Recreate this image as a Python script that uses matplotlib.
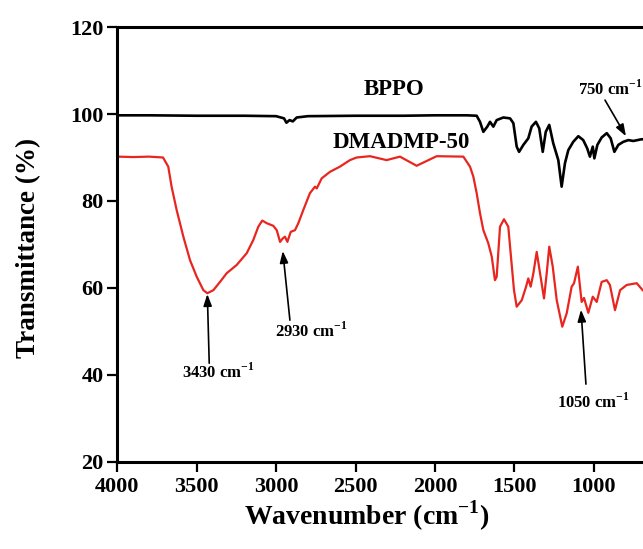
import matplotlib
matplotlib.use('Agg')
import matplotlib.pyplot as plt

# BPPO spectrum (wavenumber cm-1, transmittance %)
bppo_wn = [4000, 3800, 3500, 3200, 3000, 2950, 2935, 2915, 2895, 2870, 2800,
           2500, 2200, 2000, 1800, 1737, 1716, 1695, 1670, 1653, 1632, 1611,
           1569, 1527, 1506, 1485, 1470, 1443, 1412, 1391, 1364, 1343, 1321,
           1302, 1280, 1255, 1223, 1202, 1181, 1160, 1129, 1097, 1066, 1041,
           1024, 1006, 996, 977, 950, 918, 893, 870, 845, 814, 782, 751, 698,
           650]
bppo_t = [99.7, 99.7, 99.6, 99.6, 99.5, 99.0, 98.0, 98.6, 98.3, 99.2, 99.5,
          99.6, 99.6, 99.7, 99.7, 99.6, 98.2, 95.9, 97.1, 98.2, 97.1, 98.6,
          99.2, 99.0, 97.9, 92.5, 91.3, 92.9, 94.4, 97.1, 98.2, 96.7, 91.3,
          95.9, 97.5, 93.3, 89.4, 83.3, 88.7, 91.7, 93.6, 94.9, 94.0, 92.1,
          90.2, 92.5, 89.8, 92.9, 94.6, 95.6, 94.4, 91.3, 92.9, 93.6, 94.0,
          93.8, 94.2, 94.0]

# DMADMP-50 spectrum
dm_wn = [4000, 3900, 3800, 3712, 3679, 3658, 3626, 3584, 3542, 3500, 3458,
         3433, 3395, 3353, 3311, 3248, 3185, 3144, 3112, 3087, 3059, 3018,
         2996, 2975, 2958, 2944, 2929, 2908, 2881, 2860, 2829, 2787, 2755,
         2744, 2713, 2661, 2598, 2535, 2493, 2409, 2304, 2220, 2115, 1989,
         1821, 1779, 1758, 1737, 1716, 1695, 1664, 1642, 1622, 1611, 1590,
         1565, 1538, 1523, 1502, 1485, 1453, 1426, 1412, 1397, 1380, 1359,
         1338, 1313, 1296, 1280, 1258, 1233, 1198, 1170, 1139, 1124, 1100,
         1076, 1061, 1034, 1006, 981, 950, 918, 898, 866, 834, 792, 729,
         692, 650]
dm_t = [90.2, 90.1, 90.2, 90.0, 87.9, 83.3, 77.9, 71.8, 66.4, 62.6, 59.5,
        58.8, 59.5, 61.4, 63.4, 65.3, 68.0, 71.0, 74.1, 75.5, 74.9, 74.3,
        73.3, 70.6, 71.4, 71.8, 70.6, 72.9, 73.3, 74.9, 77.9, 81.8, 83.3,
        82.9, 85.2, 86.7, 87.9, 89.4, 90.0, 90.3, 89.4, 90.2, 88.1, 90.3,
        90.2, 87.9, 85.6, 81.8, 77.2, 73.3, 70.3, 67.2, 61.8, 62.6, 74.1,
        75.8, 74.1, 68.0, 59.5, 55.7, 57.2, 60.3, 62.2, 60.3, 63.4, 68.3,
        63.4, 57.6, 63.4, 69.5, 64.9, 57.2, 51.1, 54.2, 60.3, 61.1, 64.9,
        56.8, 57.7, 54.3, 58.0, 56.8, 61.4, 61.8, 60.7, 54.9, 59.5, 60.7,
        61.1, 59.5, 58.3]

xticks = [4000, 3500, 3000, 2500, 2000, 1500, 1000]
yticks = [20, 40, 60, 80, 100, 120]

# peak labels: text, text position, arrow tail, arrow head
peaks = [
    ('750 cm$^{\\mathbf{-1}}$', (1099, 104.4), (929, 103.2), (797, 94.9)),
    ('3430 cm$^{\\mathrm{-1}}$', (3592, 39.3), (3421, 42.7), (3433, 58.6)),
    ('2930 cm$^{\\mathbf{-1}}$', (3007, 48.7), (2913, 52.6), (2958, 68.5)),
    ('1050 cm$^{\\mathbf{-1}}$', (1232, 32.4), (1049, 37.9), (1080, 55.0)),
]

plt.rcParams['font.family'] = 'Liberation Serif'
plt.rcParams['font.weight'] = 'bold'
plt.rcParams['mathtext.fontset'] = 'custom'
plt.rcParams['mathtext.rm'] = 'Liberation Serif'
plt.rcParams['mathtext.bf'] = 'Liberation Serif:bold'

fig = plt.figure(figsize=(6.43, 5.49), dpi=100)
ax = fig.add_axes([0.1824, 0.1585, 0.8274, 0.7923])

ax.plot(bppo_wn, bppo_t, color='black', lw=1.9)
ax.plot(dm_wn, dm_t, color='#e8261f', lw=1.6)

ax.set_xlim(4000, 650)
ax.set_ylim(20, 120)
ax.set_xticks(xticks)
ax.set_yticks(yticks)
ax.tick_params(direction='out', length=7, width=1.6, labelsize=16)
ax.tick_params(axis='x', pad=4)
ax.tick_params(axis='y', pad=3)
for lab in ax.get_xticklabels() + ax.get_yticklabels():
  lab.set_fontweight('bold')
for sp in ax.spines.values():
  sp.set_linewidth(2.2)

ax.text(2258, 104.4, 'BPPO', ha='center', va='baseline', fontsize=16.5, fontweight='bold')
ax.text(2212, 92.1, 'DMADMP-50', ha='center', va='baseline', fontsize=16.5, fontweight='bold')

for txt, tpos, tail, head in peaks:
  ax.text(tpos[0], tpos[1], txt, ha='left', va='baseline', fontsize=12, fontweight='bold', clip_on=False)
  ax.annotate('', xy=head, xytext=tail,
              arrowprops=dict(arrowstyle='-|>,head_length=0.7,head_width=0.25',
                              color='black', lw=1.2, mutation_scale=10,
                              shrinkA=0, shrinkB=0))

fig.text(0.045, 0.548, 'Transmittance (%)', rotation=90, ha='center', va='center',
         fontsize=19.5, fontweight='bold')
fig.text(0.571, 0.0437, 'Wavenumber (cm$^{\\mathbf{-1}}$)', ha='center', va='baseline',
         fontsize=20, fontweight='bold')

fig.savefig('out.png', dpi=100)
